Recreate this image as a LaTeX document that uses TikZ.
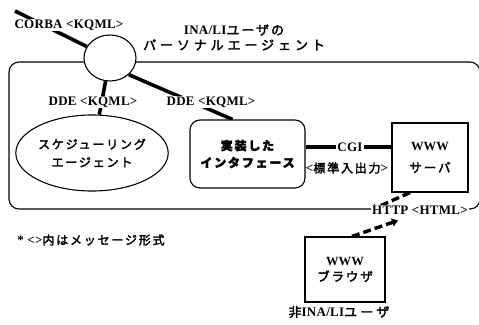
\documentclass[tikz,border=0pt]{standalone}
\usepackage{fontspec}
\setmainfont{Liberation Serif}[LetterSpace=2]
\newfontfamily\jp{Noto Sans CJK JP}[LetterSpace=15, FakeBold=2.5]
\usetikzlibrary{arrows.meta,shapes.geometric}
\pgfdeclarelayer{bg}
\pgfsetlayers{bg,main}
\tikzset{
  frameline/.style={line width=1.1pt, rounded corners=10pt},
  conn/.style={line width=3.6pt},
  dconn/.style={line width=3.4pt, dash pattern=on 8pt off 4pt, -{Triangle[length=6pt,width=8pt]}},
  lat/.style={font=\bfseries\fontsize{13}{15}\selectfont, inner sep=1pt},
  lbl/.style={lat, fill=white},
  box/.style={draw, line width=1.1pt, fill=white, align=center, inner sep=0pt},
}
\begin{document}
\begin{tikzpicture}[x=1pt,y=-1pt]
\useasboundingbox (0,0) rectangle (479,324);
% nodes
\node[draw, ellipse, line width=1.1pt, fill=white, minimum width=52pt, minimum height=46pt, inner sep=0pt] (agent) at (110,58) {};
\node[box, ellipse, minimum width=142pt, minimum height=76pt, font=\jp\fontsize{12}{18}\selectfont] (sched) at (92,153) {スケジューリング\\エージェント};
\node[box, rounded corners=10pt, minimum width=115pt, minimum height=68pt, font=\jp\bfseries\fontsize{12}{17}\selectfont] (iface) at (247.5,154) {実装した\\インタフェース};
\node[box, minimum width=76pt, minimum height=69pt, font=\bfseries\fontsize{12.5}{22}\selectfont] (server) at (430,157.5) {WWW\\{\jp\mdseries サーバ}};
\node[box, minimum width=80pt, minimum height=65pt, font=\bfseries\fontsize{12.5}{16}\selectfont] (browser) at (345,269.5) {WWW\\{\jp\mdseries ブラウザ}};
% labels
\node[lbl] (corbalbl) at (69,25) {CORBA <KQML>};
\node[lat, align=center] (ina) at (234,37.5) {INA/LI{\jp\mdseries ユーザの}\\{\jp\mdseries\addfontfeature{LetterSpace=30} パーソナルエージェント}};
\node[lbl] (ddeL) at (93,102) {DDE <KQML>};
\node[lbl] (ddeR) at (211,102) {DDE <KQML>};
\node[lbl] (cgi) at (350,147) {CGI};
\node[lat] (std) at (347,168) {<{\jp\mdseries\fontsize{12}{14}\selectfont 標準入出力}>};
\node[lbl] (http) at (420,210) {HTTP <HTML>};
\node[lat] (foot) at (91,240) {* <{}>{\jp\mdseries\fontsize{12}{14}\selectfont 内はメッセージ形式}};
\node[lat] (nonuser) at (339,312) {{\jp\mdseries\addfontfeature{LetterSpace=25}非}INA/LI{\jp\mdseries\addfontfeature{LetterSpace=25}ユーザ}};
\coordinate (corbaend) at (15,11);
% frame and connectors
\begin{pgfonlayer}{bg}
\draw[frameline] (9,62) rectangle (480,209);
\draw[conn] (corbaend) -- (agent);
\draw[conn] (agent) -- (sched);
\draw[conn] (agent.south east) -- ([xshift=-15pt]iface.north);
\draw[conn] (iface.east |- cgi) -- (server.west |- cgi);
\draw[dconn] ([xshift=-20pt]server.south) -- (http.west);
\draw[dconn] ([xshift=7pt]browser.north) -- ([xshift=-22pt,yshift=-5pt]http.south);
\end{pgfonlayer}
\end{tikzpicture}
\end{document}
